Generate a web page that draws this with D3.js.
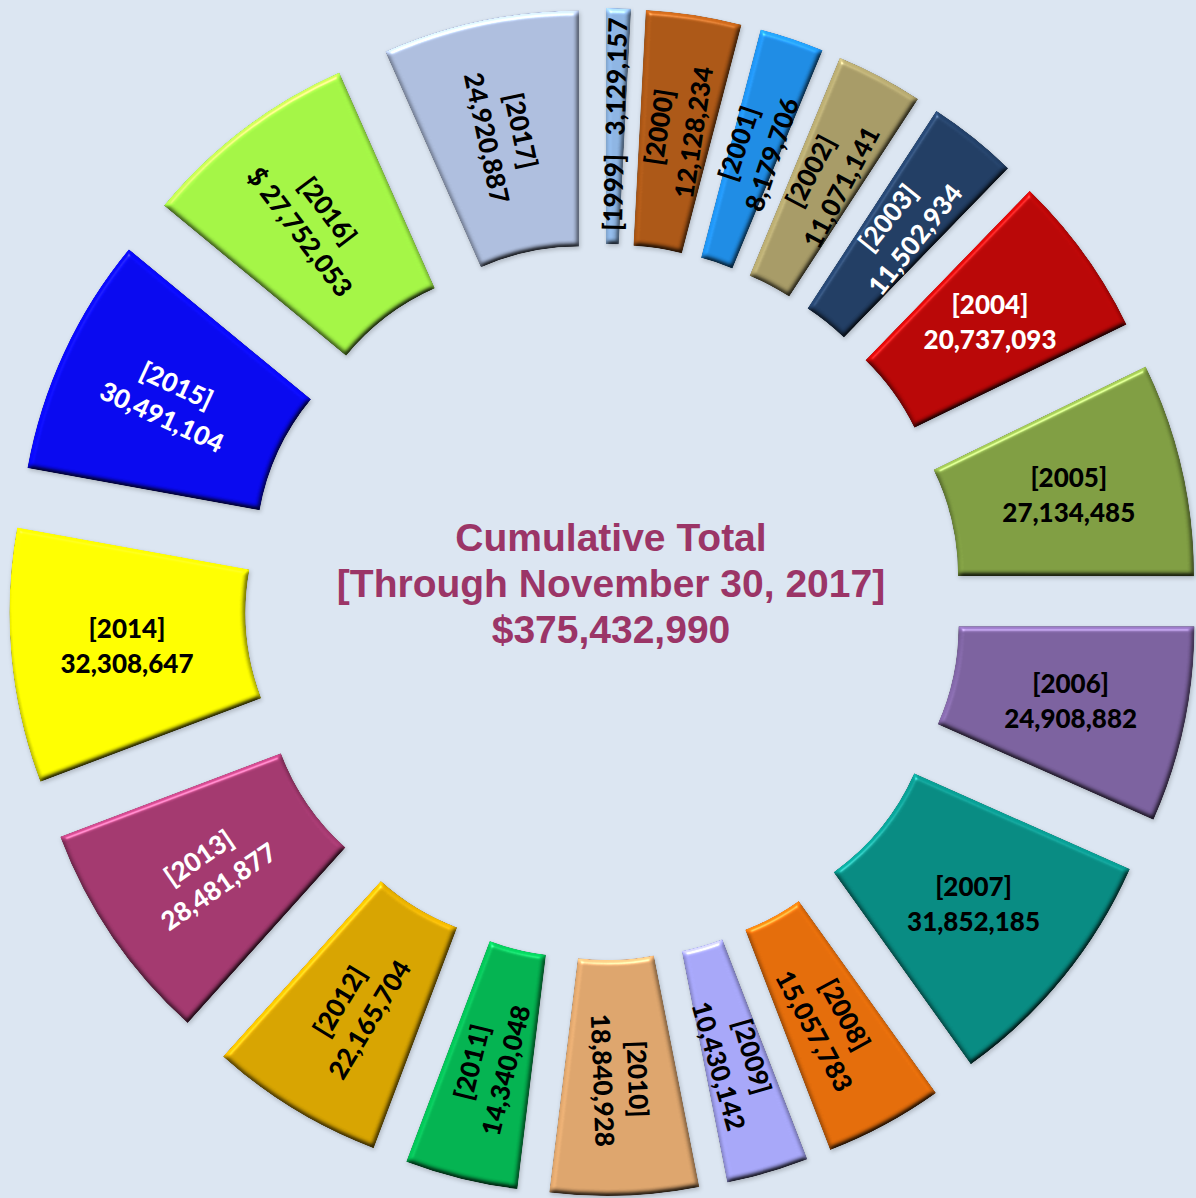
<!DOCTYPE html>
<html>
<head>
<meta charset="utf-8">
<script src="https://cdn.jsdelivr.net/npm/d3@7"></script>
<style>
  html, body { margin: 0; padding: 0; background: #dce6f2; }
  svg { display: block; }
  .slice-label { font-family: Lato, 'Open Sans', sans-serif; font-weight: 900; font-size: 26px; white-space: pre; }
  .title { font-family: 'Liberation Sans', Arial, sans-serif; font-weight: 700; font-size: 39px; fill: #9b3567; }
</style>
</head>
<body>
<div id="chart"></div>
<script>
// yearly amounts, clockwise from 12 o'clock
const years = ['1999', '2000', '2001', '2002', '2003', '2004', '2005', '2006', '2007', '2008',
  '2009', '2010', '2011', '2012', '2013', '2014', '2015', '2016', '2017'];
const values = [3129157, 12128234, 8179706, 11071141, 11502934, 20737093, 27134485, 24908882, 31852185, 15057783,
  10430142, 18840928, 14340048, 22165704, 28481877, 32308647, 30491104, 27752053, 24920887];
const colors = ['#8db4e2', '#ab5716', '#1e8be3', '#a69a66', '#213d63', '#b80606', '#7f9d42', '#7b619e', '#078a81', '#e36c0a',
  '#a6a6f8', '#dca46c', '#03b250', '#d6a300', '#a2386e', '#ffff00', '#0808ee', '#a3f545', '#adbddd'];
const whiteLabels = ['2003', '2004', '2013', '2015'];
const flatLabels = ['2004', '2005', '2006', '2007', '2014'];
const singleLineLabels = ['1999'];
const valuePrefix = { '2016': '$ ' };
const titleLines = ['Cumulative Total', '[Through November 30, 2017]', '$375,432,990'];

const width = 1196;
const height = 1198;
const cx = 603;
const cy = 602;
const innerR = 242;
const outerR = 478;
const explode = 116;
const labelR = 478;

const fmt = d3.format(',');

const svg = d3.select('#chart')
  .append('svg')
  .attr('width', width)
  .attr('height', height);

svg.append('rect')
  .attr('width', width)
  .attr('height', height)
  .attr('fill', '#dce6f2');

// soft bevel, roughly like the office preset
const defs = svg.append('defs');
const f = defs.append('filter')
  .attr('id', 'bevel')
  .attr('x', '-10%').attr('y', '-10%')
  .attr('width', '120%').attr('height', '120%')
  .attr('color-interpolation-filters', 'sRGB');
f.append('feGaussianBlur').attr('in', 'SourceAlpha').attr('stdDeviation', 2.6).attr('result', 'blur');
f.append('feDiffuseLighting')
  .attr('in', 'blur').attr('surfaceScale', 3).attr('diffuseConstant', 1)
  .attr('lighting-color', '#fff').attr('result', 'diff')
  .append('feDistantLight').attr('azimuth', 250).attr('elevation', 50);
f.append('feComposite')
  .attr('in', 'SourceGraphic').attr('in2', 'diff')
  .attr('operator', 'arithmetic').attr('k1', 1.305).attr('k2', 0).attr('k3', 0).attr('k4', 0)
  .attr('result', 'shaded');
f.append('feSpecularLighting')
  .attr('in', 'blur').attr('surfaceScale', 3).attr('specularConstant', 0.3).attr('specularExponent', 60)
  .attr('lighting-color', '#fff').attr('result', 'spec')
  .append('feDistantLight').attr('azimuth', 250).attr('elevation', 50);
f.append('feComposite').attr('in', 'spec').attr('in2', 'SourceAlpha').attr('operator', 'in').attr('result', 'specIn');
f.append('feComposite')
  .attr('in', 'shaded').attr('in2', 'specIn')
  .attr('operator', 'arithmetic').attr('k1', 0).attr('k2', 1).attr('k3', 1).attr('k4', 0)
  .attr('result', 'lit');
f.append('feComposite').attr('in', 'lit').attr('in2', 'SourceAlpha').attr('operator', 'in').attr('result', 'litIn');
f.append('feGaussianBlur').attr('in', 'SourceAlpha').attr('stdDeviation', 2).attr('result', 'sblur');
f.append('feOffset').attr('in', 'sblur').attr('dx', 1).attr('dy', 2).attr('result', 'soff');
f.append('feFlood').attr('flood-color', '#000').attr('flood-opacity', 0.2).attr('result', 'sflood');
f.append('feComposite').attr('in', 'sflood').attr('in2', 'soff').attr('operator', 'in').attr('result', 'shadow');
const fm = f.append('feMerge');
fm.append('feMergeNode').attr('in', 'shadow');
fm.append('feMergeNode').attr('in', 'litIn');

const pie = d3.pie()
  .sort(null)
  .value(d => d)
  .startAngle(0)
  .endAngle(2 * Math.PI);

const arc = d3.arc()
  .innerRadius(innerR)
  .outerRadius(outerR);

const arcs = pie(values);
const mid = d => (d.startAngle + d.endAngle) / 2;

const plot = svg.append('g')
  .attr('class', 'plot')
  .attr('transform', `translate(${cx},${cy})`);

plot.append('g')
  .attr('class', 'slices')
  .selectAll('path')
  .data(arcs)
  .join('path')
  .attr('transform', d => `translate(${explode * Math.sin(mid(d))},${-explode * Math.cos(mid(d))})`)
  .attr('d', arc)
  .attr('fill', (d, i) => colors[i])
  .attr('filter', 'url(#bevel)');

const labels = plot.append('g')
  .attr('class', 'labels')
  .selectAll('text')
  .data(arcs)
  .join('text')
  .attr('class', 'slice-label')
  .attr('text-anchor', 'middle')
  .attr('fill', (d, i) => whiteLabels.includes(years[i]) ? '#fff' : '#000')
  .attr('transform', (d, i) => {
    const m = mid(d);
    const x = labelR * Math.sin(m);
    const y = -labelR * Math.cos(m);
    let rot = 0;
    if (!flatLabels.includes(years[i])) {
      rot = m * 180 / Math.PI - 90;
      while (rot >= 90) rot -= 180;
      while (rot < -90) rot += 180;
    }
    return `translate(${x},${y}) rotate(${rot})`;
  });

labels.each(function(d, i) {
  const t = d3.select(this);
  const yr = `[${years[i]}]`;
  const val = (valuePrefix[years[i]] || '') + fmt(values[i]);
  if (singleLineLabels.includes(years[i])) {
    t.append('tspan').attr('x', 0).attr('y', 0).attr('dy', '0.35em').text(`${yr}   ${val}`);
  } else {
    t.append('tspan').attr('x', 0).attr('y', -17).attr('dy', '0.35em').text(yr);
    t.append('tspan').attr('x', 0).attr('y', 18).attr('dy', '0.35em').text(val);
  }
});

svg.append('g')
  .attr('class', 'title')
  .selectAll('text')
  .data(titleLines)
  .join('text')
  .attr('class', 'title')
  .attr('text-anchor', 'middle')
  .attr('x', cx + 8)
  .attr('y', (d, i) => cy - 51 + i * 46)
  .text(d => d);
</script>
</body>
</html>
